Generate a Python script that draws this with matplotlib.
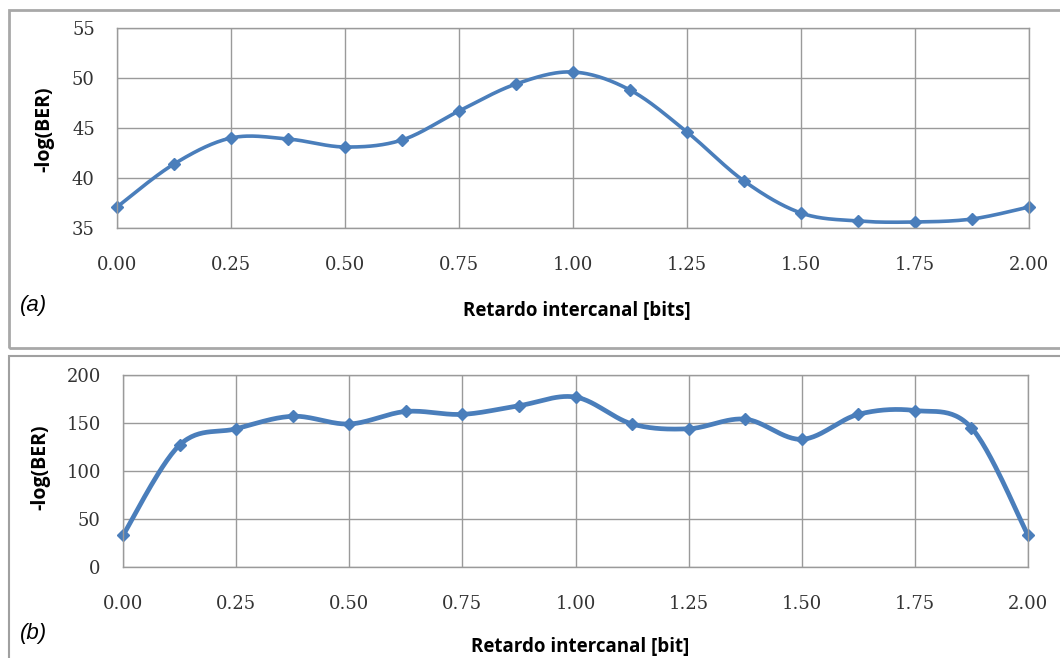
import numpy as np
import matplotlib
matplotlib.use("Agg")
import matplotlib.pyplot as plt
from matplotlib.patches import Rectangle

# ---- data ----
delay = [0.0, 0.125, 0.25, 0.375, 0.5, 0.625, 0.75, 0.875, 1.0,
         1.125, 1.25, 1.375, 1.5, 1.625, 1.75, 1.875, 2.0]
ber_a = [37.1, 41.4, 44.0, 43.9, 43.1, 43.8, 46.7, 49.4, 50.6,
         48.8, 44.6, 39.7, 36.5, 35.7, 35.6, 35.9, 37.1]
ber_b = [33, 127, 144, 157, 149, 162, 159, 168, 177,
         149, 144, 154, 133, 159, 163, 145, 33]
xticks = [0.0, 0.25, 0.5, 0.75, 1.0, 1.25, 1.5, 1.75, 2.0]
yticks_a = [35, 40, 45, 50, 55]
yticks_b = [0, 50, 100, 150, 200]
xlabel_a = "Retardo intercanal [bits]"
xlabel_b = "Retardo intercanal [bit]"
ylabel = "-log(BER)"

W, H = 1060, 658
fig = plt.figure(figsize=(W / 100, H / 100), dpi=100)

BLUE = "#4A7EBB"
GRID = "#9A9A9A"


def smooth(x, y, n=30):
    """Excel-like smoothed line (Bezier through points, tension 1/6)."""
    x = np.asarray(x, float)
    y = np.asarray(y, float)
    P = np.column_stack([x, y])
    Pe = np.vstack([P[0], P, P[-1]])
    out = []
    t = np.linspace(0, 1, n)[:, None]
    for i in range(len(P) - 1):
        p0, p1, p2, p3 = Pe[i], Pe[i + 1], Pe[i + 2], Pe[i + 3]
        c1 = p1 + (p2 - p0) / 6
        c2 = p2 - (p3 - p1) / 6
        seg = ((1 - t) ** 3) * p1 + 3 * ((1 - t) ** 2) * t * c1 + 3 * (1 - t) * t ** 2 * c2 + t ** 3 * p2
        out.append(seg if i == 0 else seg[1:])
    s = np.vstack(out)
    return s[:, 0], s[:, 1]


def axrect(l, t, r, b):
    return [l / W, 1 - b / H, (r - l) / W, (b - t) / H]


def style(ax, yticks):
    ax.set_xlim(0, 2)
    ax.set_ylim(yticks[0], yticks[-1])
    ax.set_xticks(xticks)
    ax.set_xticklabels([f"{v:.2f}" for v in xticks])
    ax.set_yticks(yticks)
    ax.grid(True, color=GRID, linewidth=1.0)
    ax.set_axisbelow(True)
    for sp in ax.spines.values():
        sp.set_color(GRID)
        sp.set_linewidth(1.0)
    ax.tick_params(length=0, labelsize=13, colors="#333333")
    ax.tick_params(axis="x", pad=20)
    ax.tick_params(axis="y", pad=16)
    for lab in ax.get_xticklabels() + ax.get_yticklabels():
        lab.set_family("DejaVu Serif")


# panel frames
fig.patches.append(Rectangle((9 / W, 1 - 348 / H), 1.2, (348 - 10) / H,
                             transform=fig.transFigure, fill=False,
                             edgecolor="#A8A8A8", linewidth=2.0))
fig.patches.append(Rectangle((9 / W, -0.1), 1.2, 0.1 + (H - 356) / H,
                             transform=fig.transFigure, fill=False,
                             edgecolor="#A0A0A0", linewidth=1.5))

# (a)
ax1 = fig.add_axes(axrect(117, 28, 1029, 228))
sx, sy = smooth(delay, ber_a)
ax1.plot(sx, sy, color=BLUE, linewidth=2.6, solid_capstyle="round")
ax1.plot(delay, ber_a, linestyle="none", marker="D", markersize=6, color=BLUE, clip_on=False)
style(ax1, yticks_a)
fig.text(44 / W, 1 - 129 / H, ylabel, ha="center", va="center", rotation=90,
         fontsize=14, fontweight="bold", family="Open Sans")
fig.text(577 / W, 1 - 311 / H, xlabel_a, ha="center", va="center",
         fontsize=13.5, fontweight="bold", family="Open Sans")
fig.text(20 / W, 1 - 306 / H, "(a)", ha="left", va="center",
         fontsize=16, style="italic", family="Liberation Sans")

# (b)
ax2 = fig.add_axes(axrect(123, 375, 1028, 567))
sx, sy = smooth(delay, ber_b)
ax2.plot(sx, sy, color=BLUE, linewidth=3.4, solid_capstyle="round")
ax2.plot(delay, ber_b, linestyle="none", marker="D", markersize=6, color=BLUE, clip_on=False)
style(ax2, yticks_b)
fig.text(40 / W, 1 - 467 / H, ylabel, ha="center", va="center", rotation=90,
         fontsize=14, fontweight="bold", family="Open Sans")
fig.text(580 / W, 1 - 647 / H, xlabel_b, ha="center", va="center",
         fontsize=13.5, fontweight="bold", family="Open Sans")
fig.text(20 / W, 1 - 633 / H, "(b)", ha="left", va="center",
         fontsize=16, style="italic", family="Liberation Sans")

fig.savefig("out.png", dpi=100, facecolor="white")
